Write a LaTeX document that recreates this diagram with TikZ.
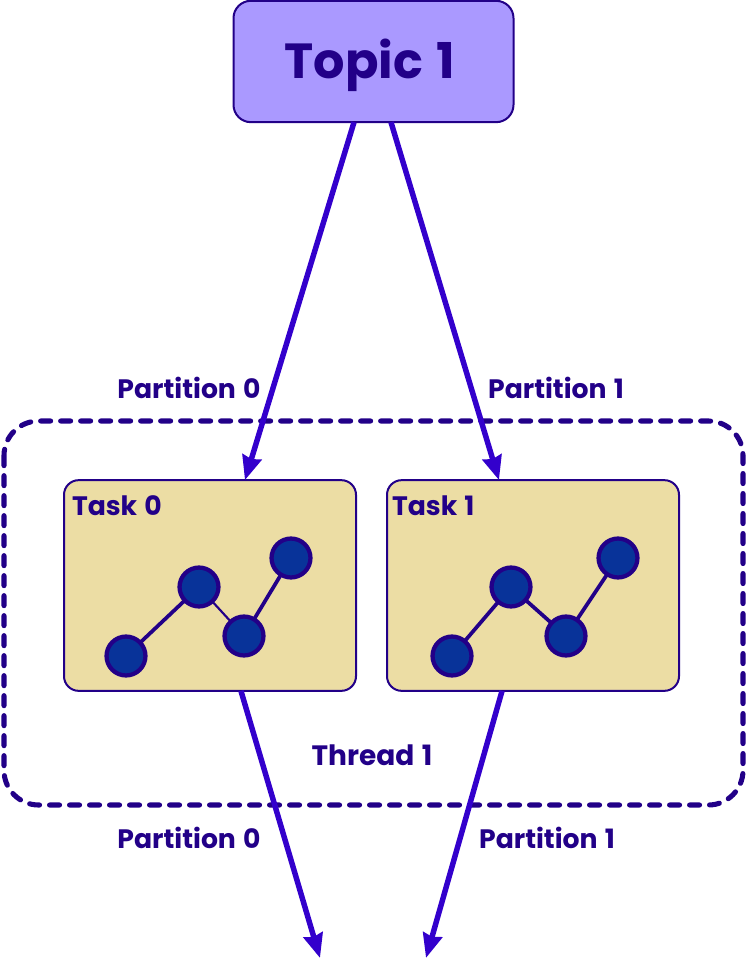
\documentclass[tikz,border=0pt]{standalone}
\usepackage{fontspec}
\setmainfont{Poppins}
\usetikzlibrary{arrows.meta}
\usetikzlibrary{positioning}

\definecolor{inkdark}{HTML}{220088}
\definecolor{inkarrow}{HTML}{3300CC}
\definecolor{topicfill}{HTML}{AA99FF}
\definecolor{taskfill}{HTML}{ECDDA4}
\definecolor{ballfill}{HTML}{083399}

\newcommand{\wordgap}{\spaceskip 0.27em\relax}

\tikzset{
  labeltext/.style={text=inkdark,font=\fontsize{20}{22}\selectfont\bfseries\wordgap,inner sep=0pt,outer sep=0pt},
  taskbox/.style={draw=inkdark,fill=taskfill,line width=1.5pt,rounded corners=11pt,minimum width=219pt,minimum height=158pt,inner sep=0pt,outer sep=0pt},
  ball/.style={circle,draw=inkdark,fill=ballfill,line width=3.2pt,minimum size=29.2pt,inner sep=0pt,outer sep=0pt}
}

\begin{document}
\begin{tikzpicture}[x=0.75pt,y=-0.75pt]
\useasboundingbox (0,0) rectangle (746,962);

\draw[draw=inkdark,line width=3.8pt,line cap=round,dash pattern=on 7.5pt off 7.5pt,rounded corners=26pt] (4,421) rectangle (743,805);

\begin{scope}[every node/.style={taskbox}]
    \node[draw=inkdark,fill=topicfill,rounded corners=13pt,minimum width=210pt,minimum height=91pt] (topic) at (373.5,61.5) {};
    \node (task0) at (210,585.5) {};
    \node (task1) at (533,585.5) {};
\end{scope}

\node[text=inkdark,font=\fontsize{37}{40}\selectfont\bfseries\wordgap] (topiclabel) at (370,65) {Topic 1};

\begin{scope}[every node/.style={labeltext}]
    \node[anchor=north west] (name0) at (72,496) {Task 0};
    \node[anchor=north west] (name1) at (392,496) {Task 1};
    \node (inpart0) at (189,388) {Partition 0};
    \node (inpart1) at (556,388) {Partition 1};
    \node (outpart0) at (189,838) {Partition 0};
    \node (outpart1) at (547,838) {Partition 1};
    \node[font=\fontsize{21}{22}\selectfont\bfseries\wordgap] (thread) at (372,755) {Thread 1};
\end{scope}

\begin{scope}[every node/.style={ball}]
    \node (a0) at (126,656) {};
    \node (b0) at (199,587) {};
    \node (c0) at (244,636) {};
    \node (d0) at (291,558) {};
    \node (a1) at (452,656) {};
    \node (b1) at (511,587) {};
    \node (c1) at (566,636) {};
    \node (d1) at (618,558) {};
\end{scope}

\begin{scope}[every edge/.style={draw=inkdark,line width=2.8pt}]
    \path [-] (a0) edge (b0);
    \path [-] (b0) edge[line width=1.6pt] (c0);
    \path [-] (c0) edge (d0);
    \path [-] (a1) edge (b1);
    \path [-] (b1) edge (c1);
    \path [-] (c1) edge (d1);
\end{scope}

\coordinate (out0) at (320,958);
\coordinate (out1) at (426,958);

\begin{scope}[>={Stealth[length=18pt,width=14.5pt,inset=1.5pt]},
              every edge/.style={draw=inkarrow,line width=4.1pt}]
    \path [->] ([xshift=-14.6pt]topic.south) edge ([xshift=26.2pt]task0.north);
    \path [->] ([xshift=13.1pt]topic.south) edge ([xshift=-25.5pt]task1.north);
    \path [->] ([xshift=23.2pt]task0.south) edge (out0);
    \path [->] ([xshift=-23.2pt]task1.south) edge (out1);
\end{scope}
\end{tikzpicture}
\end{document}
